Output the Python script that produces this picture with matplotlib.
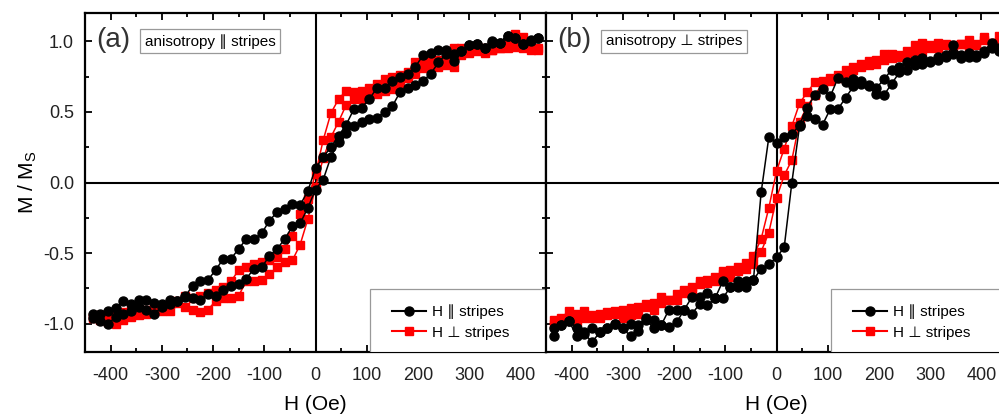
import matplotlib
matplotlib.use('Agg')
import matplotlib.pyplot as plt
from matplotlib.ticker import MultipleLocator, FormatStrFormatter
from matplotlib.patches import Rectangle
from matplotlib.lines import Line2D

plt.rcParams['font.family'] = ['Liberation Sans', 'DejaVu Sans']
plt.rcParams['axes.unicode_minus'] = False
plt.rcParams['mathtext.fontset'] = 'custom'
plt.rcParams['mathtext.rm'] = 'Liberation Sans'

# field sweep, from +H down to -H, then back up
H_DOWN = [435, 420, 405, 390, 375, 360, 345, 330, 315, 300, 285, 270, 255, 240, 225,
          210, 195, 180, 165, 150, 135, 120, 105, 90, 75, 60, 45, 30, 15, 0,
          -15, -30, -45, -60, -75, -90, -105, -120, -135, -150, -165, -180, -195, -210,
          -225, -240, -255, -270, -285, -300, -315, -330, -345, -360, -375, -390, -405,
          -420, -435]
H_UP = H_DOWN[::-1]

# (a) anisotropy || stripes
a_blk_dn = [1.02, 1.00, 0.98, 1.02, 1.04, 0.99, 1.00, 0.95, 0.98, 0.97,
            0.93, 0.91, 0.94, 0.94, 0.92, 0.90, 0.82, 0.77, 0.75, 0.72,
            0.67, 0.67, 0.59, 0.53, 0.52, 0.41, 0.33, 0.25, 0.18, 0.10,
            -0.06, -0.16, -0.15, -0.19, -0.21, -0.27, -0.36, -0.40, -0.40, -0.47,
            -0.54, -0.54, -0.62, -0.69, -0.70, -0.73, -0.81, -0.84, -0.83, -0.86,
            -0.85, -0.83, -0.83, -0.86, -0.84, -0.89, -0.91, -0.93, -0.93]
a_blk_up = [-0.96, -0.98, -1.00, -0.95, -0.93, -0.91, -0.88, -0.90, -0.93, -0.88,
            -0.86, -0.84, -0.80, -0.82, -0.83, -0.79, -0.80, -0.76, -0.73, -0.72,
            -0.68, -0.61, -0.60, -0.52, -0.47, -0.40, -0.31, -0.29, -0.18, -0.05,
            0.02, 0.18, 0.29, 0.35, 0.40, 0.43, 0.45, 0.46, 0.50, 0.54,
            0.64, 0.67, 0.69, 0.72, 0.77, 0.85, 0.91, 0.86, 0.93, 0.97,
            0.98, 0.95, 0.99, 0.99, 1.04, 1.02, 0.98, 1.01, 1.02]
a_red_dn = [0.95, 0.96, 1.03, 1.05, 0.98, 0.95, 0.94, 0.95, 0.95, 0.94,
            0.95, 0.95, 0.85, 0.87, 0.86, 0.86, 0.85, 0.78, 0.76, 0.75,
            0.73, 0.70, 0.67, 0.645, 0.64, 0.65, 0.59, 0.49, 0.30, 0.06,
            -0.12, -0.22, -0.38, -0.47, -0.53, -0.55, -0.56, -0.58, -0.60, -0.62,
            -0.70, -0.74, -0.76, -0.78, -0.80, -0.82, -0.80, -0.84, -0.86, -0.88,
            -0.89, -0.90, -0.91, -0.90, -0.92, -0.93, -0.95, -0.94, -0.95]
a_red_up = [-0.96, -0.97, -0.99, -1.00, -0.97, -0.95, -0.94, -0.93, -0.92, -0.91,
            -0.91, -0.85, -0.88, -0.90, -0.92, -0.90, -0.84, -0.82, -0.82, -0.80,
            -0.70, -0.70, -0.69, -0.65, -0.60, -0.56, -0.55, -0.44, -0.26, -0.03,
            0.17, 0.32, 0.43, 0.55, 0.59, 0.59, 0.61, 0.63, 0.65, 0.66,
            0.70, 0.74, 0.77, 0.81, 0.82, 0.82, 0.83, 0.82, 0.90, 0.92,
            0.93, 0.92, 0.94, 0.95, 0.95, 0.96, 0.95, 0.94, 0.94]

# (b) anisotropy _|_ stripes
b_blk_dn = [0.93, 0.99, 0.93, 0.89, 0.89, 0.90, 0.97, 0.89, 0.89, 0.86,
            0.84, 0.87, 0.85, 0.82, 0.80, 0.73, 0.67, 0.69, 0.72, 0.73,
            0.71, 0.74, 0.61, 0.66, 0.62, 0.53, 0.41, 0.34, 0.32, 0.28,
            0.32, -0.07, -0.69, -0.74, -0.74, -0.74, -0.70, -0.82, -0.78, -0.81,
            -0.81, -0.90, -0.90, -0.90, -1.01, -0.97, -0.96, -1.01, -1.00, -1.03,
            -1.00, -1.03, -1.06, -1.03, -1.06, -1.03, -0.98, -1.01, -1.03]
b_blk_up = [-1.09, -1.01, -0.98, -1.09, -1.07, -1.13, -1.06, -1.03, -1.00, -1.03,
            -1.09, -1.05, -0.97, -1.03, -1.01, -1.02, -0.99, -0.90, -0.93, -0.86,
            -0.87, -0.82, -0.82, -0.74, -0.70, -0.70, -0.69, -0.61, -0.58, -0.53,
            -0.46, 0.00, 0.40, 0.47, 0.45, 0.41, 0.52, 0.52, 0.60, 0.68,
            0.70, 0.68, 0.63, 0.62, 0.70, 0.78, 0.80, 0.83, 0.88, 0.85,
            0.87, 0.90, 0.91, 0.88, 0.92, 0.90, 0.92, 0.95, 0.95]
b_red_dn = [0.97, 0.99, 1.03, 0.98, 1.01, 0.98, 0.96, 0.97, 0.95, 0.97,
            0.99, 0.97, 0.93, 0.90, 0.91, 0.91, 0.87, 0.86, 0.84, 0.82,
            0.80, 0.76, 0.74, 0.72, 0.71, 0.64, 0.56, 0.40, 0.24, 0.08,
            -0.18, -0.40, -0.52, -0.57, -0.60, -0.62, -0.63, -0.67, -0.69, -0.70,
            -0.74, -0.76, -0.79, -0.83, -0.81, -0.85, -0.86, -0.88, -0.89, -0.90,
            -0.91, -0.92, -0.93, -0.94, -0.91, -0.93, -0.91, -0.96, -1.00]
b_red_up = [-0.97, -0.98, -0.95, -0.98, -0.96, -0.96, -0.96, -0.94, -0.93, -0.96,
            -0.94, -0.93, -0.88, -0.90, -0.85, -0.83, -0.83, -0.78, -0.78, -0.72,
            -0.71, -0.70, -0.65, -0.67, -0.63, -0.61, -0.58, -0.49, -0.355, -0.11,
            0.05, 0.16, 0.43, 0.54, 0.62, 0.70, 0.72, 0.74, 0.76, 0.80,
            0.82, 0.83, 0.84, 0.87, 0.88, 0.89, 0.90, 0.93, 0.93, 0.95,
            0.99, 0.98, 0.97, 0.98, 0.96, 0.97, 1.01, 0.99, 1.04]

panels = [
    ('(a)', 'anisotropy \u2225 stripes', a_blk_dn, a_blk_up, a_red_dn, a_red_up),
    ('(b)', 'anisotropy \u22a5 stripes', b_blk_dn, b_blk_up, b_red_dn, b_red_up),
]

fig = plt.figure(figsize=(9.99, 4.16), dpi=100)
w, h = 461 / 999, 339 / 416
axes = [fig.add_axes([85 / 999, 64 / 416, w, h]),
        fig.add_axes([546 / 999, 64 / 416, w, h])]

for i, (ax, (tag, title, blk_dn, blk_up, red_dn, red_up)) in enumerate(zip(axes, panels)):
    hh = H_DOWN + H_UP
    ax.axhline(0, color='k', lw=1.5, zorder=1)
    ax.axvline(0, color='k', lw=1.5, zorder=1)
    ax.plot(hh, red_dn + red_up, '-s', color='#ff0000', ms=5.5, lw=1.1, zorder=2)
    ax.plot(hh, blk_dn + blk_up, '-o', color='k', ms=6.5, lw=1.1, zorder=3)

    ax.set_xlim(-450, 450)
    ax.set_ylim(-1.2, 1.2)
    ax.xaxis.set_major_locator(MultipleLocator(100))
    ax.xaxis.set_minor_locator(MultipleLocator(50))
    ax.yaxis.set_major_locator(MultipleLocator(0.5))
    ax.yaxis.set_minor_locator(MultipleLocator(0.25))
    ax.yaxis.set_major_formatter(FormatStrFormatter('%.1f'))
    ax.tick_params(which='both', direction='in', top=True, right=True, width=1.3,
                   labelsize=13, labelcolor='#222222')
    ax.tick_params(axis='x', pad=11)
    ax.tick_params(axis='y', pad=8)
    ax.tick_params(which='major', length=5)
    ax.tick_params(which='minor', length=3)
    for sp in ax.spines.values():
        sp.set_linewidth(1.6)
    if i == 1:
        ax.tick_params(labelleft=False)
    else:
        ax.set_ylabel('M / M$_\\mathrm{S}$', fontsize=15, labelpad=3)
    ax.set_xlabel('H (Oe)', fontsize=15, labelpad=8)

    ax.text(0.024, 0.92, tag, transform=ax.transAxes, fontsize=20, color='#333333',
            va='center', ha='left')
    ax.text(0.13, 0.917, title, transform=ax.transAxes, fontsize=11, va='center',
            ha='left', bbox=dict(boxstyle='square,pad=0.3', fc='white', ec='#999999', lw=0.9))

    ax.add_patch(Rectangle((0.618, 0.0), 0.382, 0.186, transform=ax.transAxes,
                           fc='white', ec='#999999', lw=0.9, zorder=4))
    handles = [Line2D([], [], color='k', marker='o', ms=6.5, lw=1.5),
               Line2D([], [], color='#ff0000', marker='s', ms=5.5, lw=1.5)]
    leg = ax.legend(handles, ['H \u2225 stripes', 'H \u22a5 stripes'], loc='center left',
                    bbox_to_anchor=(0.667, 0.088), frameon=False, fontsize=11,
                    borderpad=0, borderaxespad=0, handlelength=2.2,
                    handletextpad=0.4, labelspacing=0.4, markerscale=1.0)
    leg.set_zorder(5)

fig.savefig('out.png', dpi=100)
